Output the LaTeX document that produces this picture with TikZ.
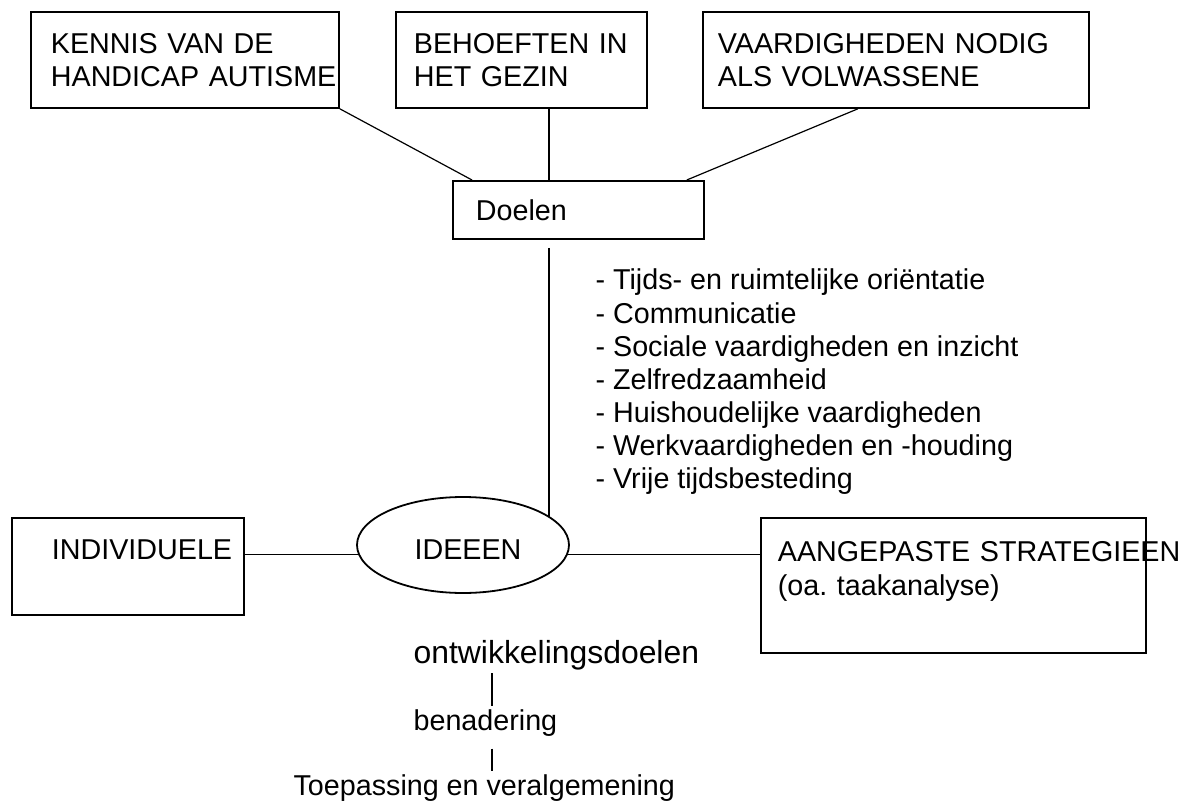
\documentclass[tikz,border=0pt]{standalone}
\usepackage{fontspec}
\setmainfont{Liberation Sans}
\usetikzlibrary{shapes.geometric}

\begin{document}
\begin{tikzpicture}[x=0.5pt, y=-0.5pt, line width=0.6pt,
		font=\fontsize{14.35pt}{16.75pt}\selectfont,
		kader/.style={draw, line width=0.9pt, anchor=north west, align=left, inner ysep=0pt},
		tekst/.style={anchor=base west, inner sep=1.5pt}]
		\useasboundingbox (0,0) rectangle (1199,802);
		% Bovenste kaders
		\node[kader, inner xsep=10pt, text width=134pt, minimum height=48pt] (kennis) at (30,11) {KENNIS VAN DE\\\mbox{HANDICAP AUTISME}};
		\node[kader, inner xsep=9pt, text width=107.5pt, minimum height=48pt] (gezin) at (395,11) {\mbox{BEHOEFTEN IN}\\HET GEZIN};
		\node[kader, inner xsep=7.5pt, text width=178pt, minimum height=48pt] (volwassen) at (702,11) {VAARDIGHEDEN NODIG\\ALS VOLWASSENE};
		\node[kader, inner xsep=11.5pt, text width=102.5pt, minimum height=29pt] (doelen) at (452,180) {Doelen};
		% Doelen (lijst)
		\foreach \i/\wat in {1/Tijds- en ruimtelijke oriëntatie, 2/Communicatie, 3/Sociale vaardigheden en inzicht, 4/Zelfredzaamheid, 5/Huishoudelijke vaardigheden, 6/Werkvaardigheden en -houding, 7/Vrije tijdsbesteding} {
			\node[tekst] (punt\i) at (592,257+33*\i) {- \wat};
		}
		% Midden
		\node[draw, ellipse, line width=0.9pt, minimum width=106pt, minimum height=48pt, inner sep=0pt, text height=14.3pt, text depth=0pt] (ideeen) at (463,545) {\kern5pt IDEEEN};
		\node[kader, inner xsep=20pt, text width=76pt, minimum height=48.5pt] (individueel) at (11,517) {\mbox{INDIVIDUELE}\\\mbox{}};
		\node[kader, inner xsep=8.5pt, text width=175.5pt, minimum height=67.5pt] (strategie) at (760,517) {\mbox{AANGEPASTE STRATEGIEEN}\\(oa.\ taakanalyse)\\\mbox{}};
		% Onderaan
		\node[tekst, font=\fontsize{15.95pt}{18pt}\selectfont] (ontw) at (410,663) {ontwikkelingsdoelen};
		\node[tekst] (benad) at (410,730) {benadering};
		\node[tekst] (toepas) at (290,795) {Toepassing en veralgemening};
		% Verbindingen
		\coordinate (as) at (549,0);
		\coordinate (as2) at (492,0);
		\draw (kennis.south east) -- ([xshift=10pt]doelen.north west);
		\draw (as |- gezin.south) -- (as |- doelen.north);
		\draw ([xshift=-19pt]volwassen.south) -- ([xshift=-9pt]doelen.north east);
		\draw ([yshift=-4pt]as |- doelen.south) -- (as |- ideeen.18);
		\draw (ideeen.185) -- (ideeen.185 -| individueel.east);
		\draw (ideeen.-5) -- (ideeen.-5 -| strategie.west);
		\draw (as2 |- ontw.south) -- (as2 |- benad.north);
		\draw ([yshift=-4.5pt]as2 |- benad.south) -- (as2 |- toepas.north);
	\end{tikzpicture}
\end{document}
